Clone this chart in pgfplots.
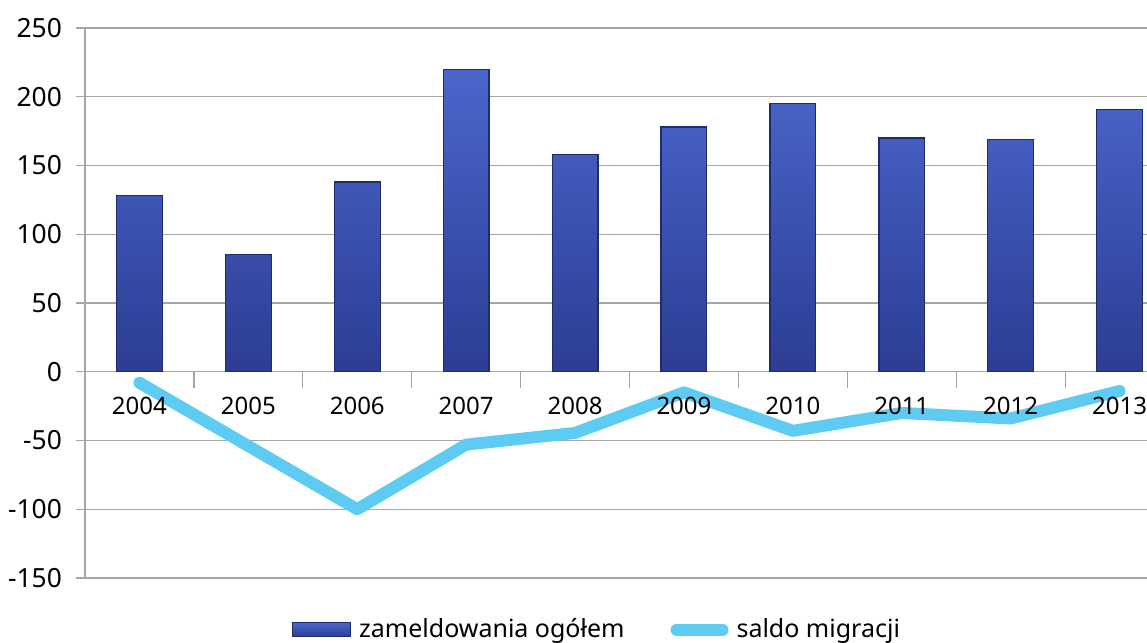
\documentclass[border=0pt]{standalone}
\usepackage{pgfplots}
\pgfplotsset{compat=1.18}
\usepackage{fontspec}
\setmainfont{Noto Sans}
\definecolor{gridgray}{HTML}{A6A6A6}
\definecolor{bartop}{HTML}{4A66CC}
\definecolor{barbot}{HTML}{2C3D93}
\definecolor{baredge}{HTML}{1F2C6C}
\definecolor{linecol}{HTML}{5DCBF2}

% tick labels drawn above the plots
\pgfplotsset{
    layers/labels on top/.define layer set={
        axis background,axis grid,axis ticks,axis lines,pre main,main,
        axis tick labels,axis descriptions,axis foreground}{/pgfplots/layers/standard},
}

\begin{document}
\begin{tikzpicture}[x=1pt,y=1pt]
\begin{axis}[
    set layers=labels on top,
    at={(0,0)}, anchor=south west,
    scale only axis,
    width=531pt, height=275pt,
    xmin=-0.5, xmax=9.252,
    ymin=-150, ymax=250,
    ytick={-150,-100,...,250},
    ymajorgrids, grid style={gridgray, line width=0.6pt},
    axis x line=middle, axis y line=left,
    axis line style={gridgray, line width=0.6pt, -},
    xtick={0,...,9},
    xticklabels={2004,2005,2006,2007,2008,2009,2010,2011,2012,2013},
    major x tick style={draw=none},
    minor xtick={0.5,1.5,...,8.5},
    minor x tick style={gridgray, line width=0.6pt},
    minor tick length=8pt,
    xtick align=outside,
    ytick align=outside,
    major tick length=4.5pt,
    y tick style={gridgray, line width=0.6pt},
    /pgf/number format/assume math mode=true,
    xticklabel style={yshift=-4.5pt, font=\fontsize{12}{14}\selectfont},
    yticklabel style={xshift=-3.5pt, font=\fontsize{13.2}{15}\selectfont},
    clip=false,
    legend style={at={(0.483,-0.094)}, anchor=center, draw=none,
        legend columns=2, font=\fontsize{12.5}{14}\selectfont,
        inner sep=0pt,
        /tikz/every odd column/.append style={column sep=2pt},
        /tikz/every even column/.append style={column sep=21pt}},
]
\addplot[ybar, bar width=0.42, draw=baredge, line width=0.6pt,
    top color=bartop, bottom color=barbot,
    legend image code/.code={\draw[draw=baredge, top color=bartop, bottom color=barbot]
        (0pt,-3.5pt) rectangle (29pt,3.5pt);}]
coordinates {(0,128) (1,85) (2,138) (3,220) (4,158) (5,178) (6,195) (7,170) (8,169) (9,191)};
\addlegendentry{zameldowania ogółem}
\addplot[linecol, line width=6pt, line cap=round, line join=round, mark=none,
    legend image code/.code={\draw[linecol, line width=6pt, line cap=round] (3pt,0pt) -- (26pt,0pt);}]
coordinates {(0,-8) (1,-54) (2,-100) (3,-53) (4,-44.5) (5,-15) (6,-43) (7,-30) (8,-34) (9,-14)};
\addlegendentry{saldo migracji}
\end{axis}
\pgfresetboundingbox
\path[use as bounding box] (-42.5pt,-32.5pt) rectangle (531pt,289pt);
\end{tikzpicture}
\end{document}
